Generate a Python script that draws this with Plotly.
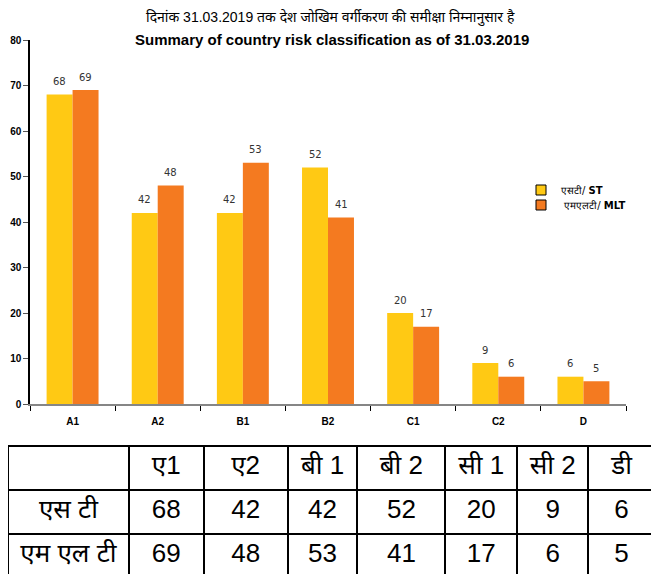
import plotly.graph_objects as go

W, H = 659, 574
OFF = 8  # browser body margin offset

categories = ["A1", "A2", "B1", "B2", "C1", "C2", "D"]
st_values = [68, 42, 42, 52, 20, 9, 6]
mlt_values = [69, 48, 53, 41, 17, 6, 5]
y_ticks = [0, 10, 20, 30, 40, 50, 60, 70, 80]

table_header = ["", "ए1", "ए2", "बी 1", "बी 2", "सी 1", "सी 2", "डी"]
row_labels = ["एस टी", "एम एल टी"]

title_hi = "दिनांक 31.03.2019 तक देश जोखिम वर्गीकरण की समीक्षा निम्नानुसार है"
title_en = "Summary of country risk classification as of 31.03.2019"
legend_st = "एसटी/ <b>ST</b>"
legend_mlt = " एमएलटी/ <b>MLT</b>"

YELLOW = "#FFC914"
ORANGE = "#F47A20"

def px_x(p):
    return min(max((p - OFF) / W, 0.0), 1.0)

def px_y(p):
    return min(max(1 - (p - OFF) / H, 0.0), 1.0)

fig = go.Figure()

fig.add_trace(go.Bar(x=categories, y=st_values, marker=dict(color=YELLOW, line=dict(width=0)),
                     showlegend=False, name="ST"))
fig.add_trace(go.Bar(x=categories, y=mlt_values, marker=dict(color=ORANGE, line=dict(width=0)),
                     showlegend=False, name="MLT"))

# legend-only entries with bordered square swatches (two legends for exact spacing)
fig.add_trace(go.Scatter(x=[None], y=[None], mode="markers", name=legend_st, legend="legend",
                         marker=dict(symbol="square", size=10, color=YELLOW, line=dict(color="black", width=1))))
fig.add_trace(go.Scatter(x=[None], y=[None], mode="markers", name=legend_mlt, legend="legend2",
                         marker=dict(symbol="square", size=10, color=ORANGE, line=dict(color="black", width=1))))

annotations = []
for cat, v in zip(categories, st_values):
    annotations.append(dict(x=cat, y=v, xref="x", yref="y", text=str(v), showarrow=False,
                            xshift=-13, yshift=13, font=dict(family="DejaVu Sans", size=10, color="#333333")))
for cat, v in zip(categories, mlt_values):
    annotations.append(dict(x=cat, y=v, xref="x", yref="y", text=str(v), showarrow=False,
                            xshift=13, yshift=13, font=dict(family="DejaVu Sans", size=10, color="#333333")))

annotations.append(dict(x=px_x(330), y=px_y(18), xref="paper", yref="paper", text=title_hi, showarrow=False,
                        xanchor="center", yanchor="middle",
                        font=dict(family="Liberation Sans, Noto Sans", size=14, color="black")))
annotations.append(dict(x=px_x(332), y=px_y(39), xref="paper", yref="paper", text="<b>" + title_en + "</b>",
                        showarrow=False, xanchor="center", yanchor="middle",
                        font=dict(family="Liberation Sans", size=15, color="black")))

cell_cols = [row_labels] + [[s, m] for s, m in zip(st_values, mlt_values)]

TABLE_FONT = "Liberation Sans Narrow, Liberation Sans, Noto Sans"

fig.add_trace(go.Table(
    domain=dict(x=[px_x(7), px_x(655)], y=[0, px_y(446)]),
    columnwidth=[121, 75, 84, 70, 88, 72, 71, 67],
    header=dict(values=table_header, height=44, align="center",
                line=dict(color="black", width=2), fill=dict(color="white"),
                font=dict(family=TABLE_FONT, size=26, color="black")),
    cells=dict(values=cell_cols, height=44, align="center",
               line=dict(color="black", width=2), fill=dict(color="white"),
               font=dict(family=TABLE_FONT, size=26, color="black")),
))

legend_common = dict(xanchor="left", yanchor="middle",
                     font=dict(family="DejaVu Sans", size=10, color="black"),
                     bgcolor="rgba(0,0,0,0)", borderwidth=0)

AXIS_FONT = dict(family="Liberation Sans", size=10, color="black", weight="bold")

fig.update_layout(
    width=W, height=H,
    margin=dict(l=0, r=0, t=0, b=0),
    paper_bgcolor="white", plot_bgcolor="white",
    barmode="group", bargap=0.39, bargroupgap=0,
    showlegend=True,
    legend=dict(x=px_x(521), y=px_y(190), **legend_common),
    legend2=dict(x=px_x(521), y=px_y(205), **legend_common),
    annotations=annotations,
    xaxis=dict(domain=[px_x(30), px_x(626)], type="category", automargin=False,
               showline=True, linecolor="#868686", linewidth=2,
               ticks="outside", tickson="boundaries", ticklen=5, tickcolor="black", tickwidth=1,
               ticklabelstandoff=7,
               showgrid=False, zeroline=False, tickfont=AXIS_FONT),
    yaxis=dict(domain=[px_y(404), px_y(40)], range=[0, 80], tickvals=y_ticks, automargin=False,
               showline=True, linecolor="black", linewidth=1.5,
               ticks="outside", ticklen=5, tickcolor="#555555", tickwidth=1,
               showgrid=False, zeroline=False, tickfont=AXIS_FONT),
)

fig.write_html("out.html")
